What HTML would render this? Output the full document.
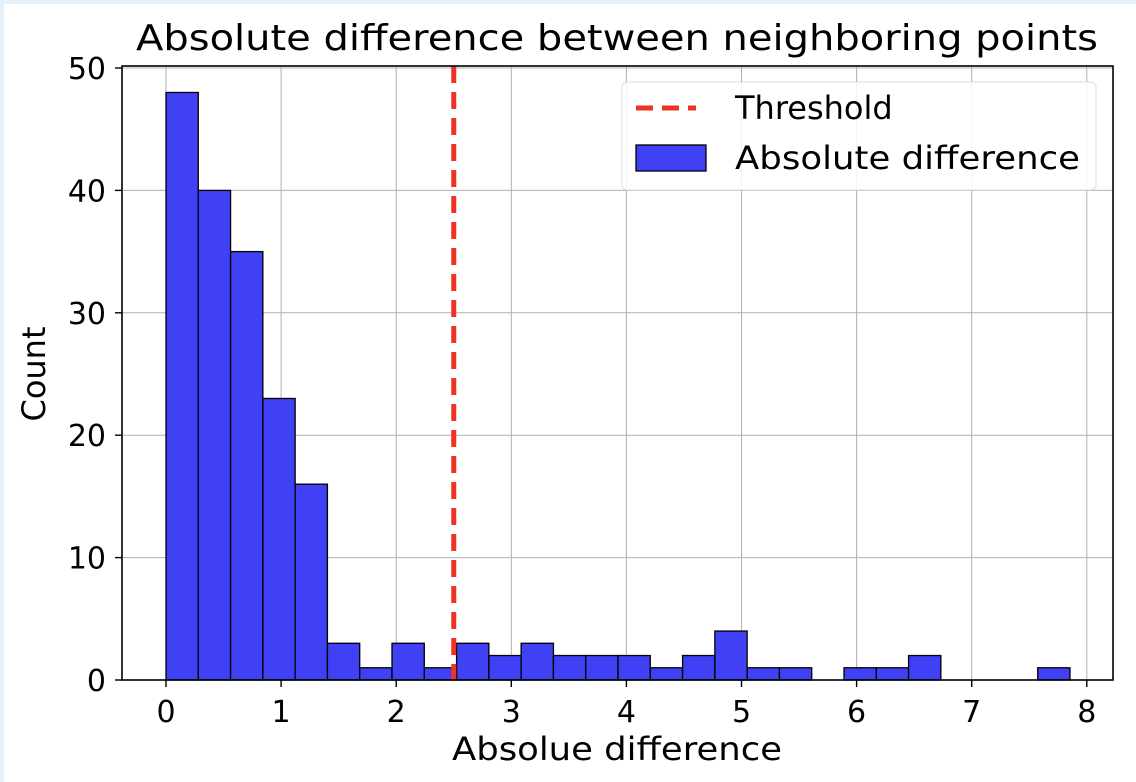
<!DOCTYPE html>
<html><head><meta charset="utf-8"><style>
body{margin:0;background:#e6f0f8;}
svg{display:block;font-family:"DejaVu Sans","Liberation Sans",sans-serif;}
</style></head><body>
<svg id="c" width="1136" height="782">
<rect x="4" y="4" width="1132" height="778" fill="#fff"/>
<g id="grid"></g><g id="bars"></g><g id="ticks"></g>
<rect x="122" y="66" width="991" height="614" fill="none" stroke="#000" stroke-width="1.6"/>
<text x="617" y="50" font-size="36" text-anchor="middle" textLength="962" lengthAdjust="spacingAndGlyphs">Absolute difference between neighboring points</text>
<text x="617" y="760" font-size="32" text-anchor="middle" textLength="330" lengthAdjust="spacingAndGlyphs">Absolue difference</text>
<text transform="translate(45,374) rotate(-90)" font-size="32" text-anchor="middle">Count</text>
<g>
<rect x="622" y="82" width="474" height="108" rx="5" fill="#fff" fill-opacity="0.85" stroke="#ddd"/>
<line x1="636" y1="108" x2="696" y2="108" stroke="#ee3322" stroke-width="5" stroke-dasharray="17,9"/>
<text x="735" y="119" font-size="32">Threshold</text>
<rect x="636" y="145" width="70" height="26" fill="#4040f5" stroke="#000" stroke-width="1.3"/>
<text x="735" y="169" font-size="32" textLength="345" lengthAdjust="spacingAndGlyphs">Absolute difference</text>
</g>
</svg>
<script>
const counts=[48,40,35,23,16,3,1,3,1,3,2,3,2,2,2,1,2,4,1,1,0,1,1,2,0,0,0,1];
const binStart=0, binWidth=0.2805;
const threshold=2.5;
const xTicks=[0,1,2,3,4,5,6,7,8];
const yTicks=[0,10,20,30,40,50];
const X=v=>166+v*115.1, Y=v=>680-v*12.24;
const NS="http://www.w3.org/2000/svg";
function mk(t,a,p){const e=document.createElementNS(NS,t);for(const k in a)e.setAttribute(k,a[k]);p.appendChild(e);return e;}
const g=document.getElementById('grid'),b=document.getElementById('bars'),tk=document.getElementById('ticks');
xTicks.forEach(v=>{
 const l=mk('line',{x1:X(v),x2:X(v),y1:66,y2:680,stroke:'#b0b0b0','stroke-width':1},g);
 
 const t=mk('line',{x1:X(v),x2:X(v),y1:680,y2:687,stroke:'#000','stroke-width':1.4},tk);
 
 const s=mk('text',{x:X(v),y:722,'font-size':30,'text-anchor':'middle'},tk);s.textContent=v;
 
});
yTicks.forEach(v=>{
 const l=mk('line',{x1:122,x2:1113,y1:Y(v),y2:Y(v),stroke:'#b0b0b0','stroke-width':1},g);
 
 const t=mk('line',{x1:115,x2:122,y1:Y(v),y2:Y(v),stroke:'#000','stroke-width':1.4},tk);
 
 const s=mk('text',{x:106,y:Y(v)+11,'font-size':30,'text-anchor':'end'},tk);s.textContent=v;
 
});
counts.forEach((c,i)=>{
 if(!c)return;
 const x0=X(binStart+i*binWidth),x1=X(binStart+(i+1)*binWidth);
 const r=mk('rect',{x:x0,y:Y(c),width:x1-x0,height:Y(0)-Y(c),fill:'#4040f5',stroke:'#000','stroke-width':1.3},b);
 
});
const th=mk('line',{x1:X(threshold),x2:X(threshold),y1:66,y2:680,stroke:'#ee3322','stroke-width':5,'stroke-dasharray':'17,9'},b);

</script>
</body></html>
